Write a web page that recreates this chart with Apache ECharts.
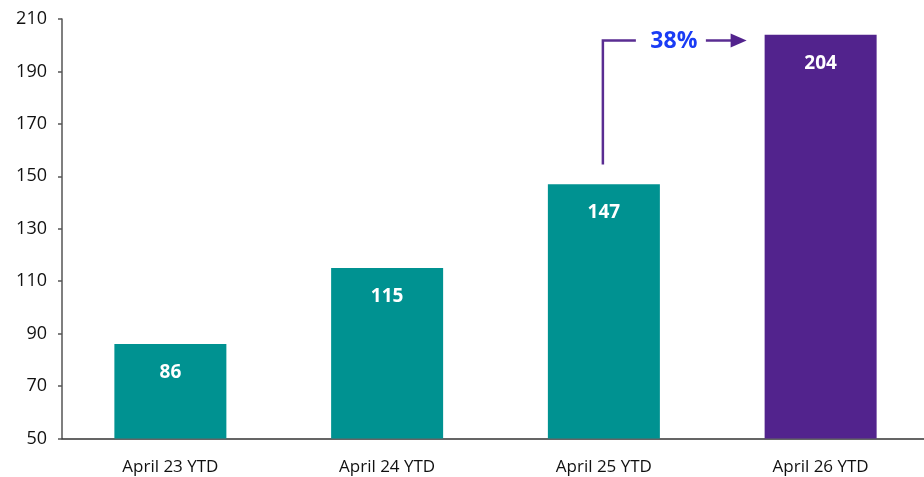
<!DOCTYPE html>
<html><head><meta charset="utf-8">
<script src="https://cdn.jsdelivr.net/npm/echarts@6/dist/echarts.min.js"></script>
<style>html,body{margin:0;padding:0;background:#fff}#c{width:924px;height:477px}</style>
</head><body><div id="c"></div>
<script>
var categories = ['April 23 YTD', 'April 24 YTD', 'April 25 YTD', 'April 26 YTD'];
var values = [86, 115, 147, 204];
var barColors = ['#009291', '#009291', '#009291', '#52238D'];
var growthLabel = '38%';
var yTicks = { min: 50, max: 210, interval: 20 };

var chart = echarts.init(document.getElementById('c'));
var font = '"Open Sans", Lato, sans-serif';
chart.setOption({
  animation: false,
  grid: { left: 62, right: -5, top: 19, bottom: 38.5, outerBoundsMode: 'none', containLabel: false },
  xAxis: {
    type: 'category', data: categories,
    axisLine: { lineStyle: { color: '#333', width: 1.5 } },
    axisTick: { show: false },
    axisLabel: { color: '#111', fontSize: 17, fontFamily: font, margin: 20 }
  },
  yAxis: {
    type: 'value', min: yTicks.min, max: yTicks.max, interval: yTicks.interval,
    axisLine: { show: true, lineStyle: { color: '#555', width: 1.5 } },
    axisTick: { show: true, length: 4, lineStyle: { color: '#555', width: 1.5 } },
    splitLine: { show: false },
    axisLabel: { color: '#111', fontSize: 18, fontFamily: font, margin: 15 }
  },
  series: [{
    type: 'bar', barWidth: 112,
    data: values.map(function (v, i) { return { value: v, itemStyle: { color: barColors[i] } }; }),
    label: { show: true, position: 'insideTop', distance: 19, color: '#fff', fontSize: 19, fontWeight: 'bold', fontFamily: font }
  }]
});

var pStart = chart.convertToPixel({ xAxisIndex: 0, yAxisIndex: 0 }, [2, values[2] + 7.5]);
var pTop = chart.convertToPixel({ xAxisIndex: 0, yAxisIndex: 0 }, [2, 201.8]);
var p4 = chart.convertToPixel({ xAxisIndex: 0, yAxisIndex: 0 }, [3, values[3]]);
var x0 = pStart[0] - 1, yTop = pTop[1], yBot = pStart[1];
var xEnd = p4[0] - 56 - 18;
var lc = '#5A2D92';
chart.setOption({
  graphic: [
    { type: 'polyline', shape: { points: [[x0, yBot], [x0, yTop], [x0 + 33, yTop]] }, style: { stroke: lc, lineWidth: 2.5, fill: null } },
    { type: 'line', shape: { x1: x0 + 103, y1: yTop, x2: xEnd - 14, y2: yTop }, style: { stroke: lc, lineWidth: 2.5 } },
    { type: 'polygon', shape: { points: [[xEnd - 16, yTop - 7], [xEnd, yTop], [xEnd - 16, yTop + 7]] }, style: { fill: '#52238D' } },
    { type: 'text', x: x0 + 71, y: yTop + 1, style: { text: growthLabel, fill: '#1A3CF5', font: 'bold 23px ' + font, textAlign: 'center', textVerticalAlign: 'middle' } }
  ]
});
</script></body></html>
